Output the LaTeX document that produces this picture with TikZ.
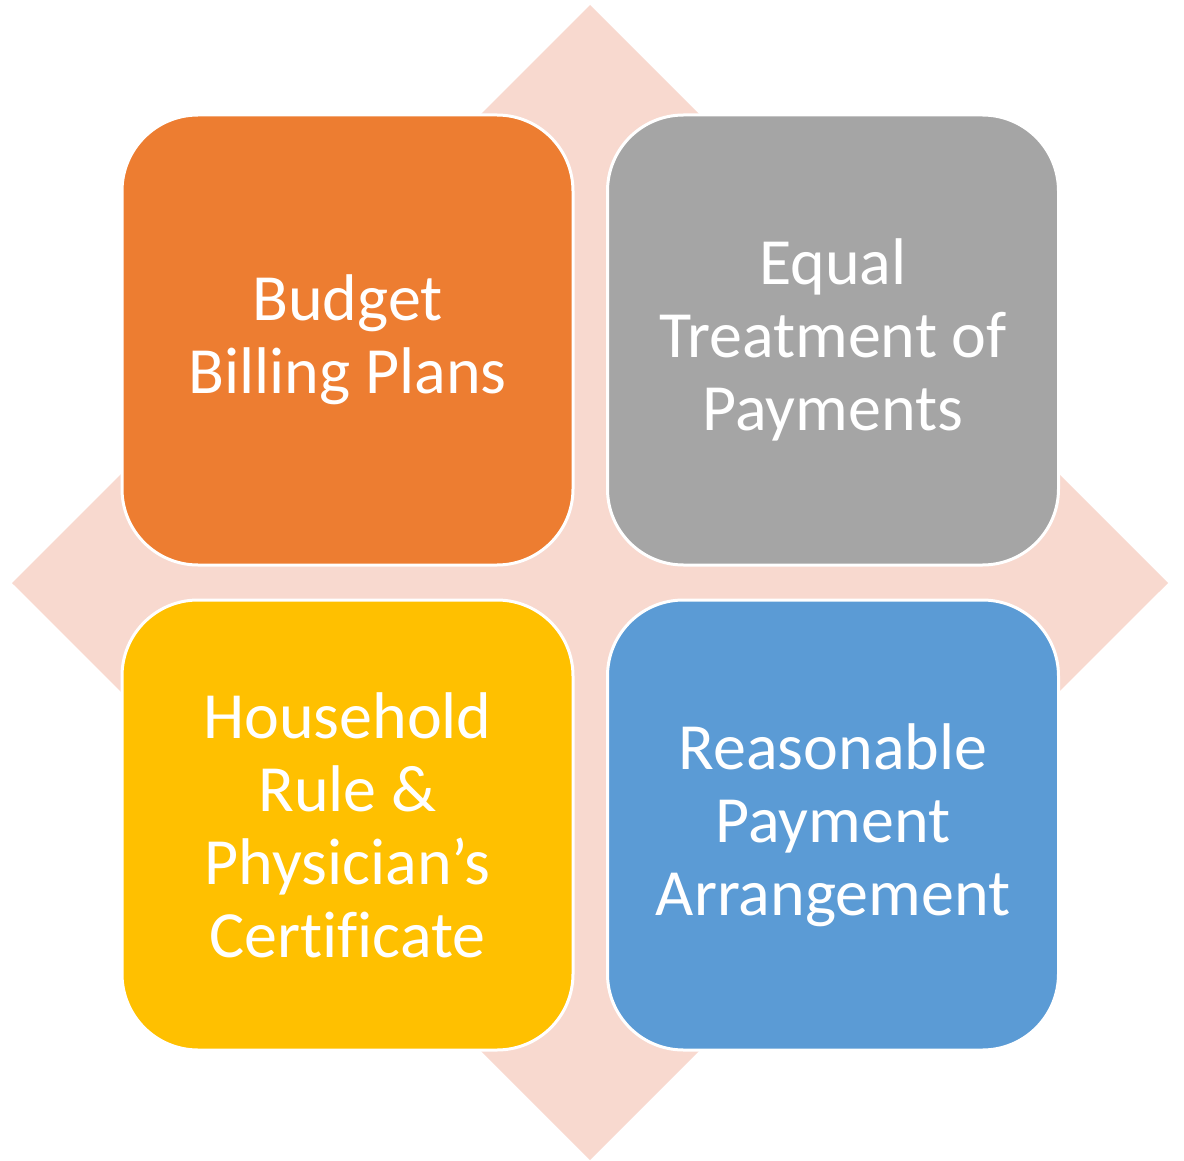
\documentclass[tikz,border=0pt]{standalone}
\usepackage{fontspec}
\setmainfont{Carlito}[Ligatures={NoCommon}]
\definecolor{diam}{HTML}{F8D9CF}
\definecolor{corange}{HTML}{ED7D31}
\definecolor{cgray}{HTML}{A5A5A5}
\definecolor{cyellow}{HTML}{FFC000}
\definecolor{cblue}{HTML}{5B9BD5}
\tikzset{
  tile/.style={draw=white, line width=1.5pt, rounded corners=38pt,
    minimum width=225.5pt, minimum height=225pt, inner sep=0pt,
    text=white, align=center,
    font=\fontsize{33pt}{36.5pt}\selectfont}
}
\begin{document}
\begin{tikzpicture}[x=0.5pt,y=-0.5pt]
\useasboundingbox (0,0) rectangle (1184,1161);
\fill[diam] (590,5) coordinate (dt) -- (1168,583) coordinate (dr) -- (590,1160) coordinate (db) -- (12,583) coordinate (dl) -- cycle;
\node[tile, fill=corange] (budget) at (347.5,340) {Budget\\Billing Plans};
\node[tile, fill=cgray] (equal) at (833,340) {Equal\\Treatment of\\Payments};
\node[tile, fill=cyellow] (house) at (347.5,825) {Household\\Rule \&\\Physician’s\\Certificate};
\node[tile, fill=cblue] (reason) at (833,825) {Reasonable\\Payment\\Arrangement};
\end{tikzpicture}
\end{document}
